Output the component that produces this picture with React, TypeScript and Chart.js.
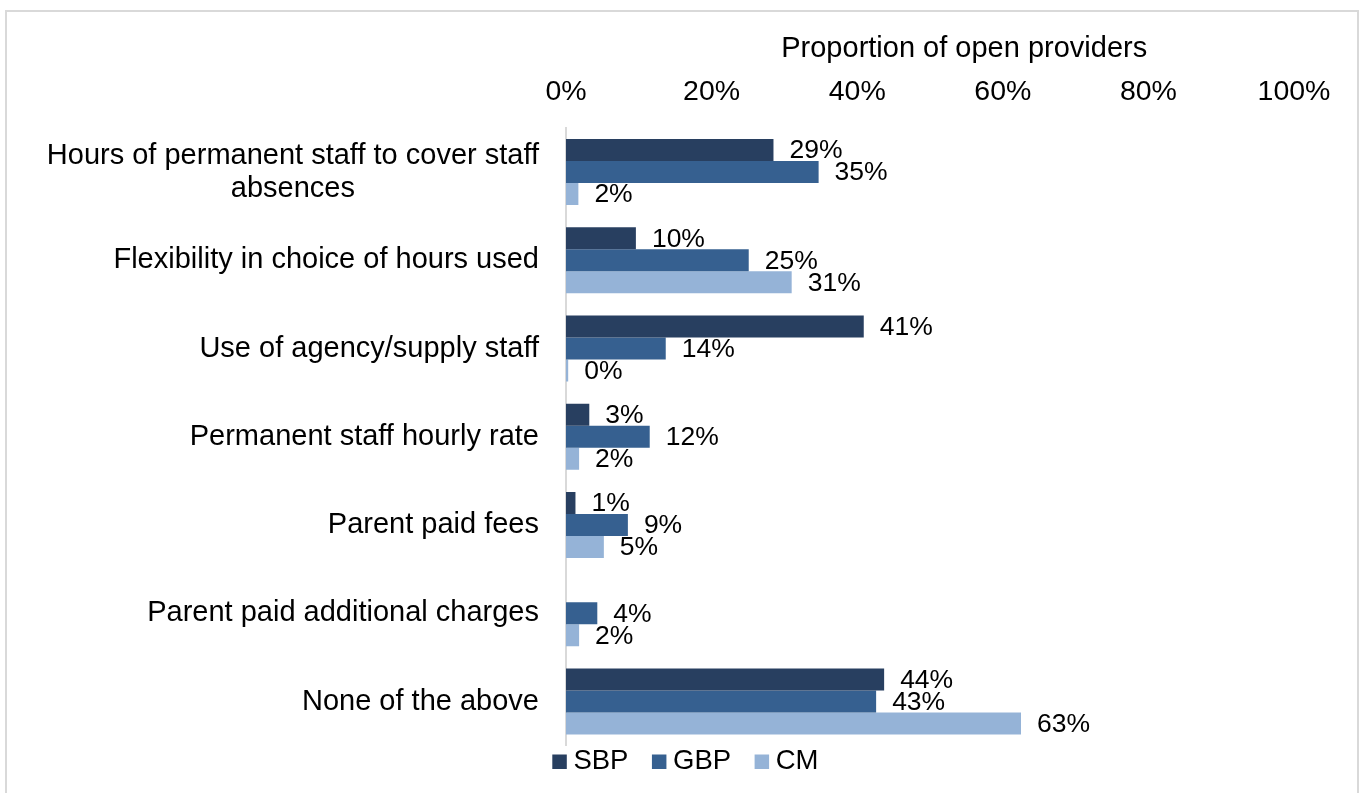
import React, { useEffect, useRef } from "react";
import { Chart, registerables } from "chart.js";

Chart.register(...registerables);

const categories: (string | string[])[] = [
  ["Hours of permanent staff to cover staff", "absences"],
  "Flexibility in choice of hours used",
  "Use of agency/supply staff",
  "Permanent staff hourly rate",
  "Parent paid fees",
  "Parent paid additional charges",
  "None of the above",
];

const seriesNames = ["SBP", "GBP", "CM"];
const seriesColors = ["#283F60", "#366090", "#95B3D7"];

const sbpValues: (number | null)[] = [28.5, 9.6, 40.9, 3.2, 1.3, null, 43.7];
const gbpValues: (number | null)[] = [34.7, 25.1, 13.7, 11.5, 8.5, 4.3, 42.6];
const cmValues: (number | null)[] = [1.7, 31.0, 0.3, 1.8, 5.2, 1.8, 62.5];

const xTicks = [0, 20, 40, 60, 80, 100];
const xTitle = "Proportion of open providers";

const FONT = "'Liberation Sans', Arial, sans-serif";
const CAT_FS = 29;
const TICK_FS = 28.5;
const LABEL_FS = 26.5;
const LEGEND_FS = 27.5;

const dataLabelPlugin = {
  id: "dataLabels",
  afterDatasetsDraw(chart: any) {
    const ctx = chart.ctx;
    ctx.save();
    ctx.font = `${LABEL_FS}px ${FONT}`;
    ctx.fillStyle = "#000";
    ctx.textAlign = "left";
    ctx.textBaseline = "middle";
    chart.data.datasets.forEach((ds: any, di: number) => {
      const meta = chart.getDatasetMeta(di);
      meta.data.forEach((bar: any, i: number) => {
        const v = ds.data[i];
        if (v === null || v === undefined) return;
        ctx.fillText(`${Math.round(v)}%`, bar.x + 16, bar.y + 1);
      });
    });
    ctx.restore();
  },
};

const categoryLabelPlugin = {
  id: "categoryLabels",
  afterDraw(chart: any) {
    const ctx = chart.ctx;
    const yScale = chart.scales.y;
    const right = chart.chartArea.left - 27;
    ctx.save();
    ctx.font = `${CAT_FS}px ${FONT}`;
    ctx.fillStyle = "#000";
    ctx.textBaseline = "middle";
    categories.forEach((label, i) => {
      const y = yScale.getPixelForValue(i);
      if (Array.isArray(label)) {
        const widest = Math.max(...label.map((l) => ctx.measureText(l).width));
        const cx = right - widest / 2;
        const lh = 33;
        const start = y - ((label.length - 1) * lh) / 2;
        ctx.textAlign = "center";
        label.forEach((l, k) => ctx.fillText(l, cx, start + k * lh));
      } else {
        ctx.textAlign = "right";
        ctx.fillText(label, right, y);
      }
    });
    ctx.restore();
  },
};

const axisTitlePlugin = {
  id: "axisTitle",
  afterDraw(chart: any) {
    const ctx = chart.ctx;
    const { left, right } = chart.chartArea;
    ctx.save();
    ctx.font = `${CAT_FS}px ${FONT}`;
    ctx.fillStyle = "#000";
    ctx.textAlign = "center";
    ctx.textBaseline = "alphabetic";
    ctx.fillText(xTitle, left + (right - left) * 0.547, 44.7);
    ctx.restore();
  },
};

const legendPlugin = {
  id: "customLegend",
  afterDraw(chart: any) {
    const ctx = chart.ctx;
    const { left, bottom } = chart.chartArea;
    const box = 14.5;
    const baseline = bottom + 23.3;
    let x = left - 13.7;
    ctx.save();
    ctx.font = `${LEGEND_FS}px ${FONT}`;
    ctx.textAlign = "left";
    ctx.textBaseline = "alphabetic";
    chart.data.datasets.forEach((ds: any) => {
      ctx.fillStyle = ds.backgroundColor;
      ctx.fillRect(x, baseline - box, box, box);
      ctx.fillStyle = "#000";
      const tx = x + box + 6.6;
      ctx.fillText(ds.label, tx, baseline);
      x = tx + ctx.measureText(ds.label).width + 23.5;
    });
    ctx.restore();
  },
};

export default function App() {
  const ref = useRef<HTMLCanvasElement | null>(null);

  useEffect(() => {
    if (!ref.current) return;
    const values = [sbpValues, gbpValues, cmValues];
    const chart = new Chart(ref.current, {
      type: "bar",
      data: {
        labels: categories.map((c) => (Array.isArray(c) ? c.join(" ") : c)),
        datasets: seriesNames.map((name, i) => ({
          label: name,
          data: values[i],
          backgroundColor: seriesColors[i],
        })),
      },
      options: {
        indexAxis: "y",
        responsive: false,
        animation: false,
        maintainAspectRatio: false,
        layout: { padding: { left: 559, right: 63, top: 44.8, bottom: 54.3 } },
        datasets: {
          bar: { categoryPercentage: 0.748, barPercentage: 1.0 },
        },
        scales: {
          x: {
            position: "top",
            min: 0,
            max: 100,
            afterBuildTicks: (scale: any) => {
              scale.ticks = xTicks.map((v) => ({ value: v }));
            },
            ticks: {
              callback: (v: any) => `${v}%`,
              font: { family: FONT, size: TICK_FS },
              color: "#000",
              padding: 18.5,
              maxRotation: 0,
            },
            grid: { display: false, drawTicks: false },
            border: { display: false },
          },
          y: {
            ticks: { display: false },
            grid: { display: false, drawTicks: false },
            border: { display: true, color: "#D9D9D9", width: 2 },
          },
        },
        plugins: {
          legend: { display: false },
          tooltip: { enabled: false },
        },
      },
      plugins: [dataLabelPlugin, categoryLabelPlugin, axisTitlePlugin, legendPlugin],
    });
    return () => chart.destroy();
  }, []);

  return (
    <div
      style={{
        position: "absolute",
        left: 5,
        top: 10,
        width: 1350,
        height: 800,
        border: "2px solid #D9D9D9",
        background: "#fff",
        boxSizing: "content-box",
      }}
    >
      <canvas ref={ref} width={1350} height={788} style={{ display: "block" }} />
    </div>
  );
}
